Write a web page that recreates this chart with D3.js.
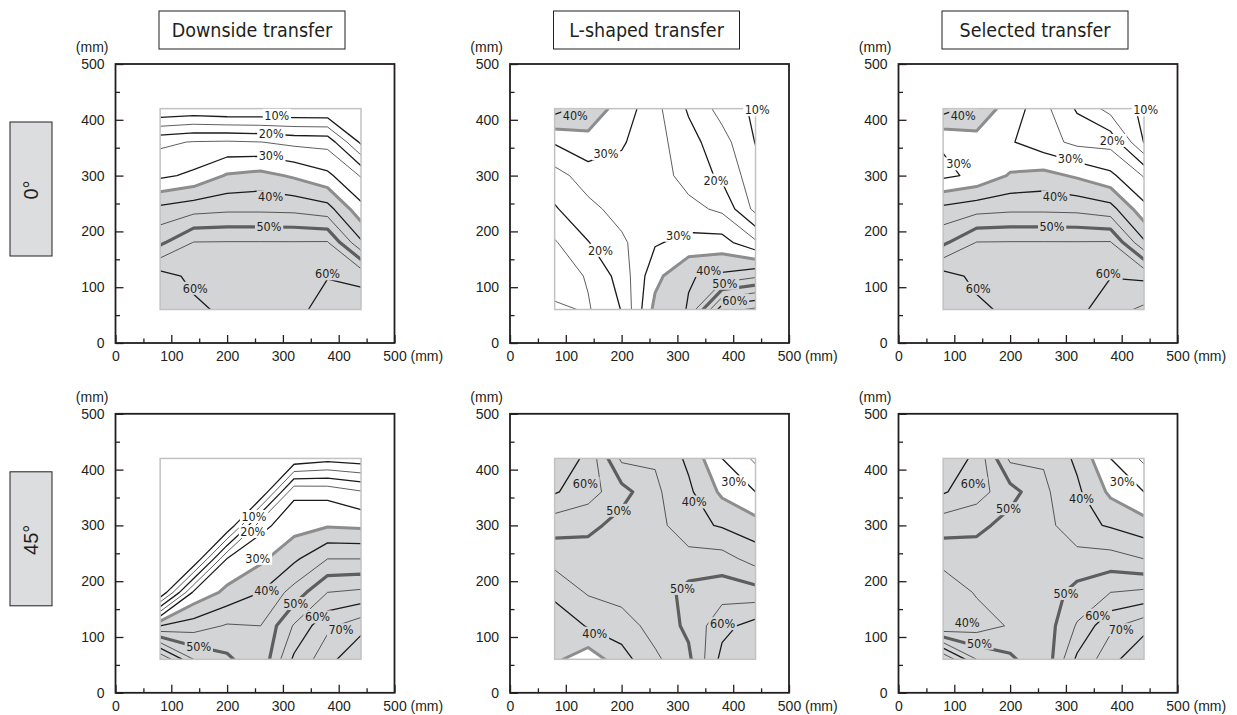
<!DOCTYPE html>
<html>
<head>
<meta charset="utf-8">
<script src="https://cdn.jsdelivr.net/npm/d3@7"></script>
<style>
body { margin: 0; background: #fff; }
svg text { font-family: "Liberation Sans Narrow", "DejaVu Sans Condensed", sans-serif; fill: #231f20; }
.tick text { font-family: "Liberation Sans", sans-serif; font-size: 14px; }
</style>
</head>
<body>
<svg id="chart" width="1237" height="715"></svg>
<script>
const angles = ["0°", "45°"];
const methods = ["Downside transfer", "L-shaped transfer", "Selected transfer"];
const axisTicks = [0, 100, 200, 300, 400, 500];
const minorTicks = [50, 150, 250, 350, 450];
const gridX = [80, 140, 200, 260, 320, 380, 440];   // mm
const gridY = [420, 360, 300, 240, 180, 120, 60];   // mm, top row first
const levels = [10, 15, 20, 25, 30, 35, 40, 45, 50, 55, 60, 65, 70, 75];

// transfer rate (%) on the measuring grid, rows from y=420 down to y=60
const down0 = [
  [5, 6, 5, 5, 5, 5, 3],
  [24, 25.3, 25.6, 25.1, 23.7, 23.3, 9],
  [29, 31, 35.5, 36.6, 34.3, 31.1, 24.6],
  [41.4, 43.2, 44, 44, 43.7, 42, 31.6],
  [49, 55.2, 55.3, 55.3, 55.3, 55.4, 40.8],
  [62, 58.8, 57, 57, 57.5, 59.8, 59],
  [64, 61, 59, 57.5, 58.5, 62, 62]
];
const lshape0 = [
  [42, 38, 33, 26.5, 19.4, 13.1, 9],
  [30.5, 33.5, 30.5, 27, 21.8, 17, 9.8],
  [23, 27.5, 28.5, 27.5, 23, 19, 12],
  [19.5, 23.5, 27, 28, 26.5, 24, 13.5],
  [14.5, 19.8, 24, 29.5, 31.5, 32, 26],
  [12, 15.5, 22, 33.5, 39.7, 41, 44],
  [16, 14.5, 20.2, 36.5, 40.3, 63, 66]
];
const selected0 = [
  [42, 38, 33, 26.5, 19.4, 13.1, 9],
  [30.5, 33.5, 30.5, 27, 23.7, 23.3, 9.8],
  [29, 31, 35.5, 36.6, 34.3, 31.1, 24.6],
  [41.4, 43.2, 44, 44, 43.7, 42, 31.6],
  [49, 55.2, 55.3, 55.3, 55.3, 55.4, 40.8],
  [62, 58.8, 57, 57, 57.5, 59.8, 59],
  [64, 61, 59, 57.5, 58.5, 63, 66]
];
const down45 = [
  [0, 0, 0, 0, 6, 8, 7],
  [0, 0, 0, 5, 29, 28.5, 25.5],
  [0, 0, 4.7, 28.5, 33, 34.5, 34],
  [0, 4.4, 30.3, 34, 39, 45, 45],
  [5, 31, 36.3, 40, 47, 55, 56],
  [40, 42.5, 45.5, 45, 55.5, 64, 68],
  [70, 55, 51, 46, 61, 68, 75]
];
const lshape45 = [
  [64, 58.7, 44, 44.5, 39, 30, 24],
  [60.5, 57, 52, 46, 41, 34, 30],
  [52, 51.5, 48, 47, 41.5, 39.5, 37],
  [46.7, 47, 47, 46, 47, 47, 43],
  [41.5, 45.5, 47, 47.5, 51.5, 53, 52],
  [36, 40.5, 42.5, 47, 51, 58.5, 62],
  [36, 32, 38, 44, 49, 61.5, 65]
];
const selected45 = [
  [64, 58.7, 44, 44.5, 39, 30, 24],
  [60.5, 57, 52, 46, 41, 34, 30],
  [52, 51.5, 48, 47, 41.5, 39.5, 37],
  [46.7, 47, 47, 46, 47, 47, 45],
  [41.5, 45.5, 47, 47.5, 51.5, 55, 56],
  [40, 42.5, 45.5, 47, 55.5, 64, 68],
  [70, 55, 51, 46, 61, 68, 75]
];

// contour labels: [x mm, y mm, text]
const labDown0 = [[289, 408, "10%"], [279, 375, "20%"], [279, 336, "30%"], [278, 262, "40%"], [275, 208, "50%"], [143, 98, "60%"], [380, 124, "60%"]];
const labL0 = [[117, 408, "40%"], [172, 339, "30%"], [369, 292, "20%"], [443, 418, "10%"], [162, 166, "20%"], [302, 193, "30%"], [356, 130, "40%"], [385, 107, "50%"], [403, 77, "60%"]];
const labSel0 = [[116, 408, "40%"], [108, 321, "30%"], [308, 330, "30%"], [383, 363, "20%"], [443, 418, "10%"], [281, 262, "40%"], [275, 208, "50%"], [143, 98, "60%"], [376, 124, "60%"]];
const labDown45 = [[248, 316, "10%"], [246, 289, "20%"], [255, 241, "30%"], [271, 184, "40%"], [323, 160, "50%"], [362, 136, "60%"], [404, 113, "70%"], [149, 83, "50%"]];
const labL45 = [[135, 375, "60%"], [195, 327, "50%"], [330, 342, "40%"], [401, 378, "30%"], [309, 187, "50%"], [381, 124, "60%"], [152, 107, "40%"]];
const labSel45 = [[134, 375, "60%"], [197, 330, "50%"], [328, 348, "40%"], [401, 378, "30%"], [300, 178, "50%"], [357, 139, "60%"], [399, 113, "70%"], [123, 126, "40%"], [145, 89, "50%"]];

const panels = [
  {row: 0, col: 0, grid: down0, labels: labDown0},
  {row: 0, col: 1, grid: lshape0, labels: labL0},
  {row: 0, col: 2, grid: selected0, labels: labSel0},
  {row: 1, col: 0, grid: down45, labels: labDown45},
  {row: 1, col: 1, grid: lshape45, labels: labL45},
  {row: 1, col: 2, grid: selected45, labels: labSel45}
];

const side = 279;
const colX = [115.5, 510, 898.5];
const rowY = [64, 413.8];
const grayFill = "#d3d4d6";

const svg = d3.select("#chart");

// grid index space of d3.contours -> mm
const gx = d3.scaleLinear().domain([0.5, 6.5]).range([gridX[0], gridX[6]]);
const gy = d3.scaleLinear().domain([0.5, 6.5]).range([gridY[0], gridY[6]]);

function lineStyle(v) {
  if (v === 35) return {c: "#8d8d8d", w: 3};
  if (v === 50) return {c: "#5e5e5e", w: 3.2};
  if (v % 10 === 0) return {c: "#1a1a1a", w: 1.3};
  return {c: "#2a2a2a", w: 0.75};
}

// method titles
methods.forEach((m, i) => {
  const cx = colX[i] + side / 2 - 3;
  svg.append("rect")
    .attr("x", cx - 93).attr("y", 11).attr("width", 186).attr("height", 38)
    .attr("fill", "#fff").attr("stroke", "#231f20").attr("stroke-width", 1);
  svg.append("text")
    .attr("x", cx).attr("y", 30).attr("dy", "0.36em")
    .attr("text-anchor", "middle").style("font-size", "19.5px")
    .text(m);
});

// angle boxes
angles.forEach((a, i) => {
  svg.append("rect")
    .attr("x", 10).attr("y", rowY[i] + 58).attr("width", 42).attr("height", 134)
    .attr("fill", "#dcdddf").attr("stroke", "#231f20").attr("stroke-width", 1);
  svg.append("text")
    .attr("transform", `translate(31,${rowY[i] + 126}) rotate(-90)`)
    .attr("text-anchor", "middle").attr("dy", "0.36em")
    .style("font-family", "'Liberation Sans', sans-serif")
    .style("font-size", "20px")
    .text(a);
});

panels.forEach((p, i) => {
  const x0 = colX[p.col], y0 = rowY[p.row];
  const xs = d3.scaleLinear().domain([0, 500]).range([x0, x0 + side]);
  const ys = d3.scaleLinear().domain([0, 500]).range([y0 + side, y0]);
  const g = svg.append("g");

  g.append("rect")
    .attr("x", x0).attr("y", y0).attr("width", side).attr("height", side)
    .attr("fill", "#fff");

  const clipId = "clip" + i;
  svg.append("clipPath").attr("id", clipId)
    .append("rect")
    .attr("x", xs(gridX[0])).attr("y", ys(gridY[0]))
    .attr("width", xs(gridX[6]) - xs(gridX[0]))
    .attr("height", ys(gridY[6]) - ys(gridY[0]));

  const proj = d3.geoTransform({
    point: function(x, y) { this.stream.point(xs(gx(x)), ys(gy(y))); }
  });
  const path = d3.geoPath(proj);
  const contours = d3.contours().size([7, 7]).thresholds(levels)(p.grid.flat());

  const plot = g.append("g").attr("clip-path", `url(#${clipId})`);
  plot.append("path")
    .datum(contours.find(c => c.value === 35))
    .attr("d", path)
    .attr("fill", grayFill);
  plot.selectAll("path.iso")
    .data(contours)
    .join("path")
    .attr("class", "iso")
    .attr("d", path)
    .attr("fill", "none")
    .attr("stroke", d => lineStyle(d.value).c)
    .attr("stroke-width", d => lineStyle(d.value).w)
    .attr("stroke-linejoin", "round");

  // measured area border
  g.append("rect")
    .attr("x", xs(gridX[0])).attr("y", ys(gridY[0]))
    .attr("width", xs(gridX[6]) - xs(gridX[0]))
    .attr("height", ys(gridY[6]) - ys(gridY[0]))
    .attr("fill", "none").attr("stroke", "#c2c2c2").attr("stroke-width", 1.5);

  // contour labels
  p.labels.forEach(l => {
    const lg = g.append("g");
    const t = lg.append("text")
      .attr("x", xs(l[0])).attr("y", ys(l[1])).attr("dy", "0.36em")
      .attr("text-anchor", "middle").style("font-size", "12.5px")
      .text(l[2]);
    const bb = t.node().getBBox();
    lg.insert("rect", "text")
      .attr("x", bb.x - 1.5).attr("y", bb.y + 1)
      .attr("width", bb.width + 3).attr("height", bb.height - 2)
      .attr("fill", parseInt(l[2]) >= 35 ? grayFill : "#fff");
  });

  // axes
  g.append("g")
    .attr("transform", `translate(0,${y0 + side})`)
    .call(d3.axisBottom(xs).tickValues(axisTicks).tickSize(-8).tickSizeOuter(0).tickPadding(8));
  g.append("g")
    .attr("transform", `translate(0,${y0 + side})`)
    .call(d3.axisBottom(xs).tickValues(minorTicks).tickSize(-4.5).tickSizeOuter(0).tickFormat(""));
  g.append("g")
    .attr("transform", `translate(${x0},0)`)
    .call(d3.axisLeft(ys).tickValues(axisTicks).tickSize(-8).tickSizeOuter(0).tickPadding(11));
  g.append("g")
    .attr("transform", `translate(${x0},0)`)
    .call(d3.axisLeft(ys).tickValues(minorTicks).tickSize(-4.5).tickSizeOuter(0).tickFormat(""));
  g.selectAll(".domain").remove();
  g.selectAll(".tick line").attr("stroke", "#231f20").attr("stroke-width", 1.3);
  g.selectAll(".tick text").attr("fill", "#231f20");

  g.append("rect")
    .attr("x", x0).attr("y", y0).attr("width", side).attr("height", side)
    .attr("fill", "none").attr("stroke", "#231f20").attr("stroke-width", 1.8);

  g.append("text")
    .attr("x", x0 - 7).attr("y", y0 - 12)
    .attr("text-anchor", "end")
    .style("font-family", "'Liberation Sans', sans-serif").style("font-size", "14px")
    .text("(mm)");
  g.append("text")
    .attr("x", xs(500) + 16).attr("y", y0 + side + 8).attr("dy", "0.71em")
    .style("font-family", "'Liberation Sans', sans-serif").style("font-size", "14px")
    .text("(mm)");
});
</script>
</body>
</html>
